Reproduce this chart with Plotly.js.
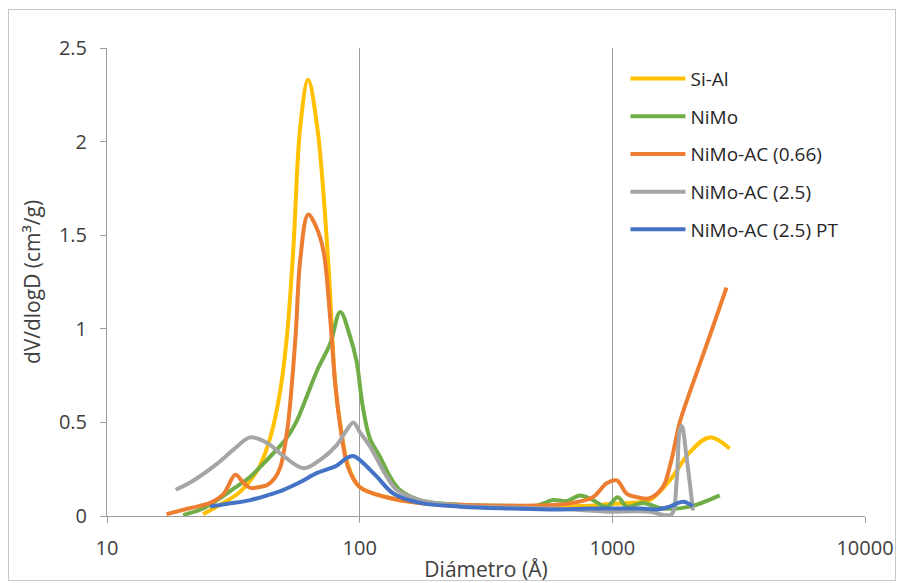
<!DOCTYPE html>
<html>
<head>
<meta charset="utf-8">
<script src="https://cdn.plot.ly/plotly-3.0.1.min.js"></script>
<style>
html,body{margin:0;padding:0;background:#fff;}
#chart{width:902px;height:583px;position:absolute;left:0;top:0;}
#frame{position:absolute;left:8px;top:9px;width:886px;height:570px;border:1px solid #C8C8C8;pointer-events:none;}
</style>
</head>
<body>
<div id="chart"></div>
<div id="frame"></div>
<script>
// Series names
const seriesNames = ["Si-Al", "NiMo", "NiMo-AC (0.66)", "NiMo-AC (2.5)", "NiMo-AC (2.5) PT"];

// Si-Al
const siAlX = [24, 28, 33, 36.9, 40, 44.3, 48.5, 51.7, 54.6, 58.2, 62.5, 67.9, 75, 80, 84, 90, 100, 128, 173, 250, 400, 600, 800, 1000, 1172, 1406, 1687, 2024, 2427, 2912];
const siAlY = [0.01, 0.06, 0.12, 0.19, 0.26, 0.42, 0.67, 0.98, 1.42, 2.08, 2.33, 2.08, 1.37, 0.71, 0.48, 0.27, 0.155, 0.10, 0.07, 0.055, 0.05, 0.05, 0.055, 0.065, 0.07, 0.085, 0.19, 0.34, 0.42, 0.36];

// NiMo
const nimoX = [20, 24, 27.3, 32, 36.9, 43, 51, 56, 61.8, 68, 76.4, 83.8, 91.6, 97.1, 103, 110, 120, 132, 144, 173, 250, 400, 500, 582, 660, 745, 838, 950, 1051, 1140, 1320, 1585, 2024, 2661];
const nimoY = [0.005, 0.04, 0.085, 0.15, 0.21, 0.30, 0.41, 0.50, 0.64, 0.78, 0.92, 1.09, 0.96, 0.83, 0.58, 0.41, 0.32, 0.21, 0.14, 0.085, 0.06, 0.055, 0.055, 0.085, 0.08, 0.11, 0.085, 0.05, 0.10, 0.05, 0.07, 0.04, 0.05, 0.11];

// NiMo-AC (0.66)
const ac066X = [17.2, 21, 25.6, 29, 32.2, 34.5, 36.9, 40, 43, 46, 48.5, 51.7, 54.1, 56, 58.2, 62.5, 67, 71.8, 76.4, 80, 83.8, 90, 100, 128, 173, 250, 400, 600, 698, 837, 950, 1042, 1140, 1260, 1406, 1585, 1700, 1849, 2024, 2427, 2830];
const ac066Y = [0.01, 0.04, 0.07, 0.12, 0.22, 0.18, 0.15, 0.155, 0.165, 0.20, 0.26, 0.46, 0.73, 1.00, 1.37, 1.61, 1.55, 1.42, 1.06, 0.71, 0.48, 0.26, 0.155, 0.10, 0.07, 0.06, 0.055, 0.06, 0.07, 0.10, 0.175, 0.19, 0.12, 0.10, 0.095, 0.155, 0.28, 0.50, 0.66, 0.96, 1.22];

// NiMo-AC (2.5)
const ac25X = [18.7, 22, 27.3, 32, 36.9, 43, 50, 60, 69.8, 81.3, 88, 94.4, 100, 110, 128, 140, 173, 250, 400, 566, 800, 978, 1200, 1406, 1600, 1718, 1800, 1849, 1884, 1964, 2085];
const ac25Y = [0.14, 0.19, 0.28, 0.36, 0.42, 0.39, 0.32, 0.255, 0.30, 0.38, 0.45, 0.50, 0.45, 0.37, 0.21, 0.14, 0.085, 0.055, 0.045, 0.04, 0.03, 0.023, 0.025, 0.023, 0.005, 0.01, 0.20, 0.46, 0.48, 0.32, 0.03];

// NiMo-AC (2.5) PT
const ac25ptX = [25.6, 30, 36.9, 43, 50, 58, 67.8, 81.3, 88.9, 94.4, 100, 117, 136, 173, 250, 400, 600, 800, 1000, 1300, 1500, 1687, 1905, 2085];
const ac25ptY = [0.05, 0.065, 0.085, 0.11, 0.14, 0.18, 0.23, 0.27, 0.31, 0.32, 0.30, 0.21, 0.12, 0.07, 0.05, 0.04, 0.035, 0.04, 0.04, 0.04, 0.035, 0.05, 0.076, 0.053];

const colors = ["#FFC000", "#70AD47", "#ED7D31", "#A5A5A5", "#4472C4"];
const xs = [siAlX, nimoX, ac066X, ac25X, ac25ptX];
const ys = [siAlY, nimoY, ac066Y, ac25Y, ac25ptY];

const traces = seriesNames.map((name, i) => ({
  x: xs[i], y: ys[i], name: name, type: "scatter", mode: "lines",
  legendgroup: "g" + i,
  line: {color: colors[i], width: 4, shape: "spline", smoothing: 1}
}));

const FONT = "'Open Sans', 'Liberation Sans', sans-serif";

const layout = {
  width: 902, height: 583,
  margin: {l: 106.5, r: 36.5, t: 48, b: 67},
  paper_bgcolor: "#ffffff", plot_bgcolor: "#ffffff",
  font: {family: FONT, size: 19, color: "#404040"},
  showlegend: true,
  legend: {
    x: 0.684, y: 0.975, xanchor: "left", yanchor: "top",
    bgcolor: "rgba(0,0,0,0)", traceorder: "grouped", tracegroupgap: 10,
    itemwidth: 55, font: {family: FONT, size: 19, color: "#262626"}
  },
  xaxis: {
    type: "log", range: [1, 4],
    tickvals: [10, 100, 1000, 10000], ticktext: ["10", "100", "1000", "10000"],
    showgrid: true, gridcolor: "#9E9E9E", gridwidth: 1,
    showline: true, linecolor: "#9E9E9E", linewidth: 1,
    ticks: "outside", ticklen: 6, tickcolor: "#9E9E9E",
    ticklabelstandoff: 8,
    tickfont: {family: FONT, size: 20, color: "#404040"},
    zeroline: false,
    title: {text: "Diámetro (Å)", font: {family: FONT, size: 21, color: "#404040"}, standoff: 4}
  },
  yaxis: {
    range: [0, 2.5], tickvals: [0, 0.5, 1, 1.5, 2, 2.5], ticktext: ["0", "0.5", "1", "1.5", "2", "2.5"],
    showgrid: false,
    showline: true, linecolor: "#9E9E9E", linewidth: 1,
    ticks: "outside", ticklen: 6, tickcolor: "#9E9E9E",
    ticklabelstandoff: 9,
    tickfont: {family: FONT, size: 20, color: "#404040"},
    zeroline: false,
    title: {text: "dV/dlogD (cm³/g)", font: {family: FONT, size: 21, color: "#404040"}, standoff: 12}
  }
};

Plotly.newPlot("chart", traces, layout, {displayModeBar: false, staticPlot: true});
</script>
</body>
</html>
